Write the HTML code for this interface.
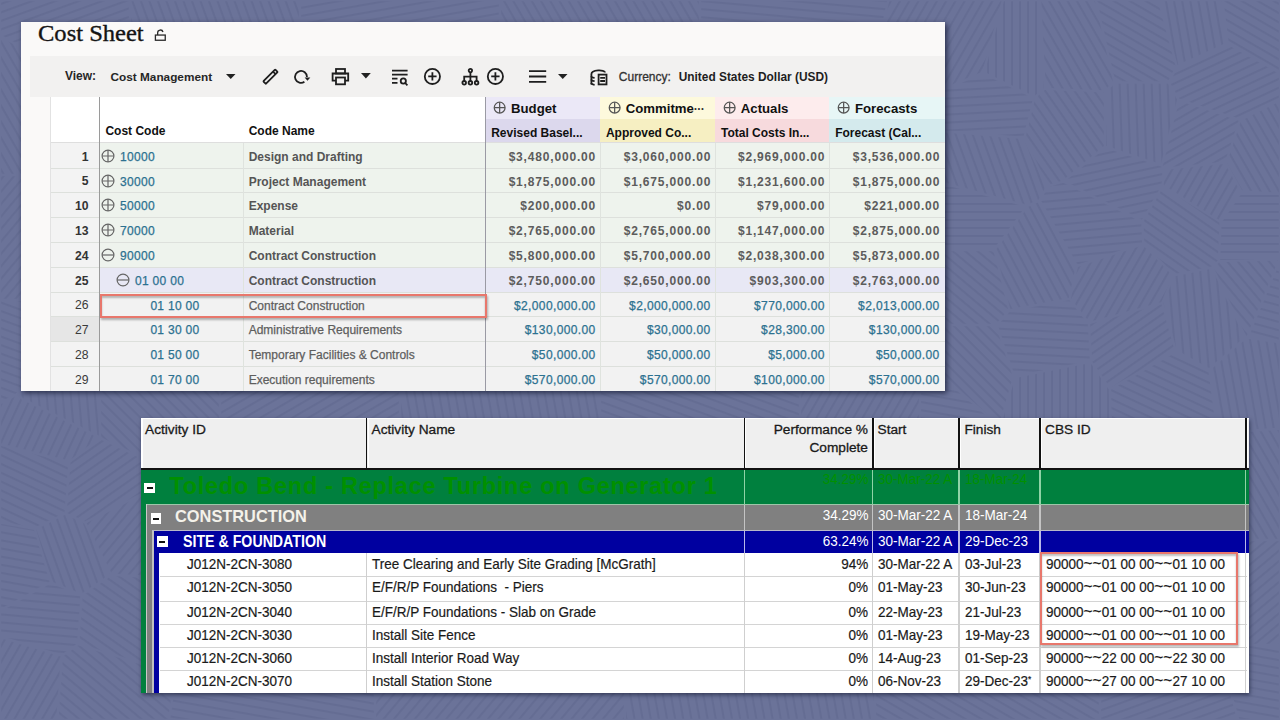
<!DOCTYPE html>
<html><head><meta charset="utf-8"><style>
html,body{margin:0;padding:0;}
body{width:1280px;height:720px;position:relative;overflow:hidden;background:#6b7399;font-family:'Liberation Sans', sans-serif;}
.r{position:absolute;}
.t{position:absolute;white-space:nowrap;line-height:1;}
</style></head><body>
<svg class="r" style="left:0;top:0;opacity:0.3" width="1280" height="720" viewBox="0 0 1280 720"><defs><pattern id="pm65" patternUnits="userSpaceOnUse" width="8" height="8" patternTransform="rotate(-65)"><rect y="3" width="8" height="1.9" fill="#575f86"/></pattern><pattern id="pm60" patternUnits="userSpaceOnUse" width="8" height="8" patternTransform="rotate(-60)"><rect y="3" width="8" height="1.9" fill="#575f86"/></pattern><pattern id="pm50" patternUnits="userSpaceOnUse" width="8" height="8" patternTransform="rotate(-50)"><rect y="3" width="8" height="1.9" fill="#575f86"/></pattern><pattern id="pm40" patternUnits="userSpaceOnUse" width="8" height="8" patternTransform="rotate(-40)"><rect y="3" width="8" height="1.9" fill="#575f86"/></pattern><pattern id="pm35" patternUnits="userSpaceOnUse" width="8" height="8" patternTransform="rotate(-35)"><rect y="3" width="8" height="1.9" fill="#575f86"/></pattern><pattern id="pm30" patternUnits="userSpaceOnUse" width="8" height="8" patternTransform="rotate(-30)"><rect y="3" width="8" height="1.9" fill="#575f86"/></pattern><pattern id="pm25" patternUnits="userSpaceOnUse" width="8" height="8" patternTransform="rotate(-25)"><rect y="3" width="8" height="1.9" fill="#575f86"/></pattern><pattern id="pm20" patternUnits="userSpaceOnUse" width="8" height="8" patternTransform="rotate(-20)"><rect y="3" width="8" height="1.9" fill="#575f86"/></pattern><pattern id="pm12" patternUnits="userSpaceOnUse" width="8" height="8" patternTransform="rotate(-12)"><rect y="3" width="8" height="1.9" fill="#575f86"/></pattern><pattern id="pm10" patternUnits="userSpaceOnUse" width="8" height="8" patternTransform="rotate(-10)"><rect y="3" width="8" height="1.9" fill="#575f86"/></pattern><pattern id="pm5" patternUnits="userSpaceOnUse" width="8" height="8" patternTransform="rotate(-5)"><rect y="3" width="8" height="1.9" fill="#575f86"/></pattern><pattern id="pm3" patternUnits="userSpaceOnUse" width="8" height="8" patternTransform="rotate(-3)"><rect y="3" width="8" height="1.9" fill="#575f86"/></pattern><pattern id="p0" patternUnits="userSpaceOnUse" width="8" height="8" patternTransform="rotate(0)"><rect y="3" width="8" height="1.9" fill="#575f86"/></pattern><pattern id="p3" patternUnits="userSpaceOnUse" width="8" height="8" patternTransform="rotate(3)"><rect y="3" width="8" height="1.9" fill="#575f86"/></pattern><pattern id="p5" patternUnits="userSpaceOnUse" width="8" height="8" patternTransform="rotate(5)"><rect y="3" width="8" height="1.9" fill="#575f86"/></pattern><pattern id="p10" patternUnits="userSpaceOnUse" width="8" height="8" patternTransform="rotate(10)"><rect y="3" width="8" height="1.9" fill="#575f86"/></pattern><pattern id="p15" patternUnits="userSpaceOnUse" width="8" height="8" patternTransform="rotate(15)"><rect y="3" width="8" height="1.9" fill="#575f86"/></pattern><pattern id="p20" patternUnits="userSpaceOnUse" width="8" height="8" patternTransform="rotate(20)"><rect y="3" width="8" height="1.9" fill="#575f86"/></pattern><pattern id="p25" patternUnits="userSpaceOnUse" width="8" height="8" patternTransform="rotate(25)"><rect y="3" width="8" height="1.9" fill="#575f86"/></pattern><pattern id="p30" patternUnits="userSpaceOnUse" width="8" height="8" patternTransform="rotate(30)"><rect y="3" width="8" height="1.9" fill="#575f86"/></pattern><pattern id="p35" patternUnits="userSpaceOnUse" width="8" height="8" patternTransform="rotate(35)"><rect y="3" width="8" height="1.9" fill="#575f86"/></pattern><pattern id="p40" patternUnits="userSpaceOnUse" width="8" height="8" patternTransform="rotate(40)"><rect y="3" width="8" height="1.9" fill="#575f86"/></pattern><pattern id="p45" patternUnits="userSpaceOnUse" width="8" height="8" patternTransform="rotate(45)"><rect y="3" width="8" height="1.9" fill="#575f86"/></pattern><pattern id="p50" patternUnits="userSpaceOnUse" width="8" height="8" patternTransform="rotate(50)"><rect y="3" width="8" height="1.9" fill="#575f86"/></pattern><pattern id="p55" patternUnits="userSpaceOnUse" width="8" height="8" patternTransform="rotate(55)"><rect y="3" width="8" height="1.9" fill="#575f86"/></pattern><pattern id="p60" patternUnits="userSpaceOnUse" width="8" height="8" patternTransform="rotate(60)"><rect y="3" width="8" height="1.9" fill="#575f86"/></pattern><pattern id="p62" patternUnits="userSpaceOnUse" width="8" height="8" patternTransform="rotate(62)"><rect y="3" width="8" height="1.9" fill="#575f86"/></pattern><pattern id="p70" patternUnits="userSpaceOnUse" width="8" height="8" patternTransform="rotate(70)"><rect y="3" width="8" height="1.9" fill="#575f86"/></pattern><pattern id="p80" patternUnits="userSpaceOnUse" width="8" height="8" patternTransform="rotate(80)"><rect y="3" width="8" height="1.9" fill="#575f86"/></pattern><pattern id="p85" patternUnits="userSpaceOnUse" width="8" height="8" patternTransform="rotate(85)"><rect y="3" width="8" height="1.9" fill="#575f86"/></pattern><pattern id="p88" patternUnits="userSpaceOnUse" width="8" height="8" patternTransform="rotate(88)"><rect y="3" width="8" height="1.9" fill="#575f86"/></pattern><pattern id="p90" patternUnits="userSpaceOnUse" width="8" height="8" patternTransform="rotate(90)"><rect y="3" width="8" height="1.9" fill="#575f86"/></pattern></defs><polygon points="984.7,71.9 1034.2,96.2 1043.4,88.3 1039.0,1.2 1003.9,1.2" fill="url(#p90)"/><polygon points="1045.8,87.7 1104.5,90.2 1113.0,82.1 1094.9,1.2 1041.4,1.2" fill="url(#p60)"/><polygon points="863.9,121.0 982.3,71.7 1001.4,1.2 889.3,1.2" fill="url(#pm60)"/><polygon points="864.2,123.5 1023.3,136.8 1033.0,98.2 983.2,73.9" fill="url(#pm3)"/><polygon points="1115.3,81.3 1168.0,81.3 1175.5,66.3 1157.7,1.2 1097.4,1.2" fill="url(#p30)"/><polygon points="1226.3,42.7 1221.4,1.2 1160.2,1.2 1177.6,64.8" fill="url(#p80)"/><polygon points="1228.7,42.6 1278.8,70.9 1278.8,1.2 1223.8,1.2" fill="url(#p30)"/><polygon points="1278.8,99.3 1278.8,73.7 1227.5,44.7 1177.6,67.4 1170.1,82.5 1179.1,98.4 1239.9,118.7" fill="url(#pm25)"/><polygon points="1103.8,92.6 1045.0,90.1 1035.4,98.2 1025.5,137.9 1047.6,185.0 1062.5,180.5 1103.8,146.1" fill="url(#p55)"/><polygon points="1168.0,83.7 1114.8,83.7 1106.2,91.9 1106.2,145.8 1160.9,164.0 1177.0,99.6" fill="url(#p88)"/><polygon points="1045.6,186.4 1023.4,139.2 862.0,125.7 838.8,153.4 1027.2,204.8 1038.7,199.6" fill="url(#p70)"/><polygon points="1238.5,120.8 1179.1,101.0 1163.0,165.4 1164.3,167.6 1224.9,161.6" fill="url(#pm30)"/><polygon points="1242.2,190.3 1278.8,192.6 1278.8,101.9 1241.0,120.9 1227.1,162.6" fill="url(#p60)"/><polygon points="1162.4,169.2 1160.9,166.6 1105.3,148.0 1065.3,181.3 1141.9,219.6 1161.4,185.4" fill="url(#pm12)"/><polygon points="1240.1,191.4 1225.1,163.9 1164.7,170.0 1163.8,185.1 1220.2,220.4" fill="url(#pm60)"/><polygon points="837.0,155.4 767.4,211.7 792.8,248.8 993.8,248.8 1025.3,206.8" fill="url(#p0)"/><polygon points="1039.1,202.1 1028.1,207.1 995.7,250.3 1010.3,308.9 1068.7,297.9 1075.7,266.2" fill="url(#p62)"/><polygon points="1141.2,222.0 1063.0,182.8 1047.8,187.4 1041.0,200.5 1077.6,264.6 1142.0,243.1" fill="url(#pm5)"/><polygon points="1217.7,260.6 1219.3,222.6 1163.0,187.4 1143.6,221.5 1144.4,243.4 1174.1,274.0 1212.0,266.3" fill="url(#p35)"/><polygon points="1278.8,258.2 1278.8,195.0 1242.1,192.7 1221.7,222.4 1220.2,259.9" fill="url(#p0)"/><polygon points="993.4,251.2 794.1,251.2 800.9,266.0 904.1,323.8 996.1,323.8 1008.1,309.9" fill="url(#p40)"/><polygon points="1142.9,245.3 1078.0,266.9 1071.0,298.7 1089.4,321.7 1161.4,302.0 1172.3,275.6" fill="url(#pm60)"/><polygon points="1174.5,276.4 1163.6,303.1 1177.0,350.2 1209.2,368.1 1244.2,337.2 1211.9,268.8" fill="url(#p85)"/><polygon points="1246.4,336.3 1246.5,336.3 1278.1,260.6 1219.4,262.3 1214.0,267.7" fill="url(#p50)"/><polygon points="1010.1,311.4 998.0,325.3 1014.9,375.8 1089.8,360.8 1087.7,323.5 1069.2,300.3" fill="url(#p3)"/><polygon points="1161.5,304.5 1090.2,323.9 1092.3,361.4 1110.2,387.6 1174.6,350.4" fill="url(#pm35)"/><polygon points="905.7,326.2 921.0,356.7 999.1,423.7 1012.8,377.2 995.8,326.2" fill="url(#p45)"/><polygon points="1015.0,378.2 1001.0,426.0 1011.5,547.5 1095.2,562.2 1112.9,544.0 1108.7,389.5 1090.5,363.1" fill="url(#p90)"/><polygon points="1176.0,352.4 1111.1,389.8 1115.3,542.6 1122.7,539.0 1216.3,432.7 1208.3,370.3" fill="url(#p25)"/><polygon points="1210.6,370.0 1218.6,431.8 1278.8,427.6 1278.8,343.4 1247.2,338.7 1246.1,338.7" fill="url(#p80)"/><polygon points="69.2,460.4 98.4,438.0 15.5,396.6 1.2,404.2 1.2,443.4" fill="url(#pm65)"/><polygon points="68.2,462.7 1.2,445.9 1.2,521.6 34.7,527.6 64.4,512.7" fill="url(#p25)"/><polygon points="176.5,475.4 100.3,439.6 70.6,462.4 66.8,512.8 85.0,521.2" fill="url(#pm35)"/><polygon points="49.5,581.7 34.0,529.9 1.2,524.1 1.2,608.5" fill="url(#p10)"/><polygon points="81.5,593.7 109.5,574.2 84.1,523.4 65.5,514.8 36.3,529.4 51.9,581.4" fill="url(#p70)"/><polygon points="111.8,573.5 235.9,580.4 269.7,555.6 219.3,483.0 179.4,476.6 86.6,523.0" fill="url(#pm50)"/><polygon points="80.3,595.8 51.0,583.6 1.2,611.3 1.2,635.8 61.7,654.5 76.9,643.6" fill="url(#p5)"/><polygon points="175.3,672.9 234.1,582.7 111.4,575.9 82.8,595.7 79.4,643.4" fill="url(#p35)"/><polygon points="60.6,656.6 1.2,638.4 1.2,718.8 56.2,718.8" fill="url(#pm60)"/><polygon points="174.5,675.1 78.3,645.5 63.1,656.4 58.6,718.8 168.0,718.8" fill="url(#p40)"/><polygon points="128.8,1.2 1.2,1.2 1.2,34.8 128.8,105.7" fill="url(#pm20)"/><polygon points="298.8,193.9 298.8,1.2 131.2,1.2 131.2,107.5 162.8,174.2 211.2,212.5 219.9,213.9" fill="url(#p70)"/><polygon points="301.2,193.9 400.0,218.9 498.8,193.9 498.8,1.2 301.2,1.2" fill="url(#pm10)"/><polygon points="501.2,193.9 600.0,218.9 698.8,193.9 698.8,1.2 501.2,1.2" fill="url(#p60)"/><polygon points="861.1,122.6 886.9,1.2 701.2,1.2 701.2,193.9 765.5,210.2 835.9,153.2 860.5,123.8" fill="url(#p5)"/><polygon points="129.1,108.6 1.2,37.6 1.2,173.8 159.9,173.8" fill="url(#p60)"/><polygon points="161.4,176.2 1.2,176.2 1.2,298.8 107.4,298.8 208.8,213.7" fill="url(#pm50)"/><polygon points="14.8,394.3 99.0,317.7 106.0,301.2 1.2,301.2 1.2,401.5" fill="url(#p20)"/><polygon points="98.8,321.1 17.6,395.0 98.8,435.6" fill="url(#p85)"/><polygon points="101.2,437.3 179.6,474.2 218.8,480.5 218.8,216.1 211.1,215.0 108.8,300.7 101.2,318.7" fill="url(#p45)"/><polygon points="374.7,571.7 398.8,555.9 398.8,221.1 300.0,196.1 221.2,216.0 221.2,481.5 272.1,554.8" fill="url(#pm30)"/><polygon points="598.8,221.1 500.0,196.1 401.2,221.1 401.2,555.3 598.8,555.3" fill="url(#p80)"/><polygon points="791.1,250.6 765.1,212.6 700.0,196.1 601.2,221.1 601.2,555.9 625.3,571.7 798.8,543.1 798.8,267.2" fill="url(#p20)"/><polygon points="902.8,325.9 801.2,268.9 801.2,543.4 875.1,580.0 918.8,565.5 918.8,357.8" fill="url(#pm60)"/><polygon points="373.8,574.0 271.7,557.2 237.1,582.4 176.9,674.7 170.4,718.8 373.8,718.8" fill="url(#p10)"/><polygon points="623.8,573.6 599.6,557.7 400.4,557.7 376.2,573.6 376.2,718.8 623.8,718.8" fill="url(#pm50)"/><polygon points="873.8,582.0 799.8,545.4 626.2,574.0 626.2,718.8 873.8,718.8" fill="url(#p80)"/><polygon points="876.2,582.1 876.2,718.8 1098.8,718.8 1098.8,574.5 1094.7,564.5 1010.4,549.7 920.3,567.6" fill="url(#p30)"/><polygon points="1101.2,718.8 1236.7,718.8 1216.5,645.8 1101.2,576.4" fill="url(#pm20)"/><polygon points="1218.1,434.2 1126.1,538.8 1278.8,538.8 1278.8,430.0" fill="url(#p60)"/><polygon points="1097.0,563.7 1101.0,573.4 1217.9,643.8 1278.8,643.8 1278.8,541.2 1123.8,541.2 1114.8,545.5" fill="url(#pm40)"/><polygon points="1239.2,718.8 1278.8,718.8 1278.8,646.2 1219.1,646.2" fill="url(#p10)"/><polygon points="1278.8,265.1 1249.0,336.5 1278.8,341.0" fill="url(#p15)"/><polygon points="921.2,564.9 1009.1,547.5 998.6,426.4 921.2,360.1" fill="url(#p10)"/></svg><div class="r" style="left:21.00px;top:22.00px;width:924.00px;height:368.80px;background:#faf9f8;box-shadow:2px 2px 5px rgba(15,20,45,0.7);"></div><div class="t" style="left:38.40px;top:22.03px;font-size:23.6px;font-weight:400;color:#141414;font-family:'Liberation Serif', serif;letter-spacing:0px;-webkit-text-stroke:0.35px #141414;transform:scaleX(1.04);transform-origin:left top;">Cost Sheet</div><svg class="r" style="left:153px;top:28px" width="16" height="16" viewBox="0 0 16 16"><path d="M4.65 7.05 V4.88 A2.73 2.73 0 0 1 10.0 4.0" fill="none" stroke="#2a2a2a" stroke-width="1.3"/><rect x="2.4" y="7.05" width="9.85" height="5.2" fill="none" stroke="#2a2a2a" stroke-width="1.3"/></svg><div class="r" style="left:29.70px;top:56.00px;width:915.30px;height:40.70px;background:#f2f1f0;"></div><div class="t" style="left:64.90px;top:70.44px;font-size:12px;font-weight:700;color:#262626;font-family:'Liberation Sans', sans-serif;letter-spacing:0px;">View:</div><div class="t" style="left:110.50px;top:71.61px;font-size:11.8px;font-weight:700;color:#262626;font-family:'Liberation Sans', sans-serif;letter-spacing:0px;">Cost Management</div><svg class="r" style="left:226px;top:73.8px" width="9.5" height="5" viewBox="0 0 9.5 5"><path d="M0 0 H9.5 L4.75 5 Z" fill="#222"/></svg><svg class="r" style="left:258px;top:64px" width="26" height="26" viewBox="0 0 26 26"><g transform="translate(12.5 12.7) rotate(-45)"><rect x="-8.4" y="-1.8" width="16.8" height="3.6" rx="0.6" fill="none" stroke="#1e1e1e" stroke-width="1.8" stroke-width="1.7"/><path d="M5.4 -1.8 V1.8" fill="none" stroke="#1e1e1e" stroke-width="1.8" stroke-width="1.5"/></g></svg><svg class="r" style="left:290px;top:66px" width="24" height="22" viewBox="0 0 24 22"><path d="M16.95 10.9 A5.95 5.95 0 1 0 14.4 15.8" fill="none" stroke="#1e1e1e" stroke-width="1.8"/><path d="M14.6 11.6 H20.3 L17.5 14.8 Z" fill="#1e1e1e"/></svg><svg class="r" style="left:331px;top:67px" width="19" height="19" viewBox="0 0 19 19"><rect x="5" y="2" width="9" height="4.5" fill="none" stroke="#1e1e1e" stroke-width="1.8"/><path d="M5 13.6 H1.6 V6.5 H17.2 V13.6 H14" fill="none" stroke="#1e1e1e" stroke-width="1.8"/><rect x="5" y="10.5" width="9" height="6.8" fill="none" stroke="#1e1e1e" stroke-width="1.8"/></svg><svg class="r" style="left:360.8px;top:73.3px" width="9.8" height="5.4" viewBox="0 0 9.8 5.4"><path d="M0 0 H9.8 L4.9 5.4 Z" fill="#222"/></svg><svg class="r" style="left:391px;top:68.8px" width="18" height="18" viewBox="0 0 18 18"><path d="M1 1.6 H16.6 M1 5.6 H16.6 M1 9.6 H6.5 M1 13.8 H6.5" fill="none" stroke="#1e1e1e" stroke-width="1.8"/><circle cx="12.3" cy="12" r="2.6" fill="none" stroke="#1e1e1e" stroke-width="1.8"/><path d="M14.2 14 L16.4 16.4" fill="none" stroke="#1e1e1e" stroke-width="1.8"/></svg><svg class="r" style="left:422.80px;top:67.00px" width="18.80" height="18.80" viewBox="-9.4 -9.4 18.8 18.8"><circle cx="0" cy="0" r="7.6" fill="none" stroke="#1e1e1e" stroke-width="1.8"/><path d="M-4.18 0 H4.18 M0 -4.18 V4.18" stroke="#1e1e1e" stroke-width="1.8"/></svg><svg class="r" style="left:461px;top:68px" width="19" height="18" viewBox="0 0 19 18"><circle cx="9.4" cy="2.6" r="1.7" fill="none" stroke="#1e1e1e" stroke-width="1.8" stroke-width="1.6"/><path d="M9.4 4.3 V8.6 M3.2 13 V8.6 H15.6 V13 M9.4 8.6 V13" fill="none" stroke="#1e1e1e" stroke-width="1.8" stroke-width="1.6"/><circle cx="3.2" cy="14.8" r="1.8" fill="none" stroke="#1e1e1e" stroke-width="1.8" stroke-width="1.6"/><circle cx="9.4" cy="14.8" r="1.8" fill="none" stroke="#1e1e1e" stroke-width="1.8" stroke-width="1.6"/><circle cx="15.6" cy="14.8" r="1.8" fill="none" stroke="#1e1e1e" stroke-width="1.8" stroke-width="1.6"/></svg><svg class="r" style="left:485.90px;top:67.00px" width="18.80" height="18.80" viewBox="-9.4 -9.4 18.8 18.8"><circle cx="0" cy="0" r="7.6" fill="none" stroke="#1e1e1e" stroke-width="1.8"/><path d="M-4.18 0 H4.18 M0 -4.18 V4.18" stroke="#1e1e1e" stroke-width="1.8"/></svg><svg class="r" style="left:528px;top:69px" width="20" height="15" viewBox="0 0 20 15"><path d="M1 2.2 H18.2 M1 7.5 H18.2 M1 12.9 H18.2" fill="none" stroke="#1e1e1e" stroke-width="1.8" stroke-width="2"/></svg><svg class="r" style="left:558px;top:73.5px" width="9.5" height="5" viewBox="0 0 9.5 5"><path d="M0 0 H9.5 L4.75 5 Z" fill="#222"/></svg><svg class="r" style="left:588px;top:66px" width="22" height="22" viewBox="0 0 22 22"><path d="M3.4 18.6 V8.2 C3.4 3.6 17.0 3.4 17.0 6.6" fill="none" stroke="#1e1e1e" stroke-width="1.8" stroke-width="1.6"/><path d="M3.4 10.2 C3.4 11.2 4.8 11.6 6.6 11.8 M3.4 13.6 C3.4 14.6 4.8 15 6.6 15.2 M3.4 17 C3.4 18 4.8 18.5 6.6 18.8" fill="none" stroke="#1e1e1e" stroke-width="1.8" stroke-width="1.4"/><rect x="10.6" y="8.6" width="7.9" height="9.8" fill="none" stroke="#1e1e1e" stroke-width="1.8" stroke-width="1.7"/><path d="M12.2 11.9 H17 M12.2 15 H17" fill="none" stroke="#1e1e1e" stroke-width="1.8" stroke-width="1.5"/></svg><div class="t" style="left:618.80px;top:71.44px;font-size:12px;font-weight:400;color:#333;font-family:'Liberation Sans', sans-serif;letter-spacing:0px;-webkit-text-stroke:0.3px #333;">Currency:</div><div class="t" style="left:678.70px;top:71.53px;font-size:11.9px;font-weight:700;color:#1e1e1e;font-family:'Liberation Sans', sans-serif;letter-spacing:0px;">United States Dollar (USD)</div><div class="r" style="left:50.50px;top:96.70px;width:435.00px;height:46.30px;background:#ffffff;"></div><div class="r" style="left:485.40px;top:96.70px;width:114.70px;height:22.20px;background:#ebe8f7;"></div><div class="r" style="left:485.40px;top:118.90px;width:114.70px;height:24.10px;background:#dcd8ed;"></div><svg class="r" style="left:492.95px;top:101.05px" width="13.30" height="13.30" viewBox="-6.65 -6.65 13.3 13.3"><circle cx="0" cy="0" r="5.4" fill="none" stroke="#555" stroke-width="1.25"/><path d="M-5.4 0 H5.4 M0 -5.4 V5.4" stroke="#555" stroke-width="1.25"/></svg><div class="t" style="left:511.00px;top:101.63px;font-size:13.2px;font-weight:700;color:#111;font-family:'Liberation Sans', sans-serif;letter-spacing:0px;">Budget</div><div class="t" style="left:491.20px;top:127.04px;font-size:12px;font-weight:700;color:#111;font-family:'Liberation Sans', sans-serif;letter-spacing:0px;">Revised Basel...</div><div class="r" style="left:600.10px;top:96.70px;width:115.10px;height:22.20px;background:#fdf9dc;"></div><div class="r" style="left:600.10px;top:118.90px;width:115.10px;height:24.10px;background:#f6efc2;"></div><svg class="r" style="left:607.65px;top:101.05px" width="13.30" height="13.30" viewBox="-6.65 -6.65 13.3 13.3"><circle cx="0" cy="0" r="5.4" fill="none" stroke="#555" stroke-width="1.25"/><path d="M-5.4 0 H5.4 M0 -5.4 V5.4" stroke="#555" stroke-width="1.25"/></svg><div class="t" style="left:625.70px;top:101.63px;font-size:13.2px;font-weight:700;color:#111;font-family:'Liberation Sans', sans-serif;letter-spacing:0px;">Commitme<span style="letter-spacing:-0.6px;font-size:12px;color:#333">···</span></div><div class="t" style="left:605.90px;top:127.04px;font-size:12px;font-weight:700;color:#111;font-family:'Liberation Sans', sans-serif;letter-spacing:0px;">Approved Co...</div><div class="r" style="left:715.20px;top:96.70px;width:114.20px;height:22.20px;background:#fdeced;"></div><div class="r" style="left:715.20px;top:118.90px;width:114.20px;height:24.10px;background:#f7dadd;"></div><svg class="r" style="left:722.75px;top:101.05px" width="13.30" height="13.30" viewBox="-6.65 -6.65 13.3 13.3"><circle cx="0" cy="0" r="5.4" fill="none" stroke="#555" stroke-width="1.25"/><path d="M-5.4 0 H5.4 M0 -5.4 V5.4" stroke="#555" stroke-width="1.25"/></svg><div class="t" style="left:740.80px;top:101.63px;font-size:13.2px;font-weight:700;color:#111;font-family:'Liberation Sans', sans-serif;letter-spacing:0px;">Actuals</div><div class="t" style="left:721.00px;top:127.04px;font-size:12px;font-weight:700;color:#111;font-family:'Liberation Sans', sans-serif;letter-spacing:0px;">Total Costs In...</div><div class="r" style="left:829.40px;top:96.70px;width:115.60px;height:22.20px;background:#e7f6f6;"></div><div class="r" style="left:829.40px;top:118.90px;width:115.60px;height:24.10px;background:#d4eaed;"></div><svg class="r" style="left:836.95px;top:101.05px" width="13.30" height="13.30" viewBox="-6.65 -6.65 13.3 13.3"><circle cx="0" cy="0" r="5.4" fill="none" stroke="#555" stroke-width="1.25"/><path d="M-5.4 0 H5.4 M0 -5.4 V5.4" stroke="#555" stroke-width="1.25"/></svg><div class="t" style="left:855.00px;top:101.63px;font-size:13.2px;font-weight:700;color:#111;font-family:'Liberation Sans', sans-serif;letter-spacing:0px;">Forecasts</div><div class="t" style="left:835.20px;top:127.04px;font-size:12px;font-weight:700;color:#111;font-family:'Liberation Sans', sans-serif;letter-spacing:0px;">Forecast (Cal...</div><div class="t" style="left:105.40px;top:125.34px;font-size:12px;font-weight:700;color:#111;font-family:'Liberation Sans', sans-serif;letter-spacing:0px;">Cost Code</div><div class="t" style="left:248.70px;top:125.34px;font-size:12px;font-weight:700;color:#111;font-family:'Liberation Sans', sans-serif;letter-spacing:0px;">Code Name</div><div class="r" style="left:50.50px;top:142.00px;width:894.50px;height:1.60px;background:#dedede;"></div><div class="r" style="left:50.50px;top:143.20px;width:49.00px;height:24.80px;background:#f3f3f3;"></div><div class="r" style="left:99.60px;top:143.20px;width:845.40px;height:24.80px;background:#eef3ed;"></div><div class="t" style="right:1191.40px;top:150.67px;font-size:12.2px;font-weight:700;color:#333;font-family:'Liberation Sans', sans-serif;letter-spacing:0px;">1</div><svg class="r" style="left:100.80px;top:148.80px" width="14" height="14" viewBox="-7 -7 14 14"><circle r="5.9" fill="none" stroke="#666" stroke-width="1.2"/><path d="M-5.9 0 H5.9 M0 -5.9 V5.9" stroke="#666" stroke-width="1.2"/></svg><div class="t" style="left:120.00px;top:150.84px;font-size:12px;font-weight:400;color:#2c7190;font-family:'Liberation Sans', sans-serif;letter-spacing:0.3px;-webkit-text-stroke:0.25px #2c7190;">10000</div><div class="t" style="left:248.70px;top:150.84px;font-size:12px;font-weight:700;color:#555;font-family:'Liberation Sans', sans-serif;letter-spacing:0px;">Design and Drafting</div><div class="t" style="right:683.98px;top:150.84px;font-size:12px;font-weight:700;color:#5c5c5c;font-family:'Liberation Sans', sans-serif;letter-spacing:0.82px;">$3,480,000.00</div><div class="t" style="right:568.88px;top:150.84px;font-size:12px;font-weight:700;color:#5c5c5c;font-family:'Liberation Sans', sans-serif;letter-spacing:0.82px;">$3,060,000.00</div><div class="t" style="right:454.68px;top:150.84px;font-size:12px;font-weight:700;color:#5c5c5c;font-family:'Liberation Sans', sans-serif;letter-spacing:0.82px;">$2,969,000.00</div><div class="t" style="right:339.88px;top:150.84px;font-size:12px;font-weight:700;color:#5c5c5c;font-family:'Liberation Sans', sans-serif;letter-spacing:0.82px;">$3,536,000.00</div><div class="r" style="left:50.50px;top:168.00px;width:49.00px;height:24.80px;background:#f3f3f3;"></div><div class="r" style="left:99.60px;top:168.00px;width:845.40px;height:24.80px;background:#eef3ed;"></div><div class="t" style="right:1191.40px;top:175.47px;font-size:12.2px;font-weight:700;color:#333;font-family:'Liberation Sans', sans-serif;letter-spacing:0px;">5</div><svg class="r" style="left:100.80px;top:173.60px" width="14" height="14" viewBox="-7 -7 14 14"><circle r="5.9" fill="none" stroke="#666" stroke-width="1.2"/><path d="M-5.9 0 H5.9 M0 -5.9 V5.9" stroke="#666" stroke-width="1.2"/></svg><div class="t" style="left:120.00px;top:175.64px;font-size:12px;font-weight:400;color:#2c7190;font-family:'Liberation Sans', sans-serif;letter-spacing:0.3px;-webkit-text-stroke:0.25px #2c7190;">30000</div><div class="t" style="left:248.70px;top:175.64px;font-size:12px;font-weight:700;color:#555;font-family:'Liberation Sans', sans-serif;letter-spacing:0px;">Project Management</div><div class="t" style="right:683.98px;top:175.64px;font-size:12px;font-weight:700;color:#5c5c5c;font-family:'Liberation Sans', sans-serif;letter-spacing:0.82px;">$1,875,000.00</div><div class="t" style="right:568.88px;top:175.64px;font-size:12px;font-weight:700;color:#5c5c5c;font-family:'Liberation Sans', sans-serif;letter-spacing:0.82px;">$1,675,000.00</div><div class="t" style="right:454.68px;top:175.64px;font-size:12px;font-weight:700;color:#5c5c5c;font-family:'Liberation Sans', sans-serif;letter-spacing:0.82px;">$1,231,600.00</div><div class="t" style="right:339.88px;top:175.64px;font-size:12px;font-weight:700;color:#5c5c5c;font-family:'Liberation Sans', sans-serif;letter-spacing:0.82px;">$1,875,000.00</div><div class="r" style="left:50.50px;top:192.80px;width:49.00px;height:24.80px;background:#f3f3f3;"></div><div class="r" style="left:99.60px;top:192.80px;width:845.40px;height:24.80px;background:#eef3ed;"></div><div class="t" style="right:1191.40px;top:200.27px;font-size:12.2px;font-weight:700;color:#333;font-family:'Liberation Sans', sans-serif;letter-spacing:0px;">10</div><svg class="r" style="left:100.80px;top:198.40px" width="14" height="14" viewBox="-7 -7 14 14"><circle r="5.9" fill="none" stroke="#666" stroke-width="1.2"/><path d="M-5.9 0 H5.9 M0 -5.9 V5.9" stroke="#666" stroke-width="1.2"/></svg><div class="t" style="left:120.00px;top:200.44px;font-size:12px;font-weight:400;color:#2c7190;font-family:'Liberation Sans', sans-serif;letter-spacing:0.3px;-webkit-text-stroke:0.25px #2c7190;">50000</div><div class="t" style="left:248.70px;top:200.44px;font-size:12px;font-weight:700;color:#555;font-family:'Liberation Sans', sans-serif;letter-spacing:0px;">Expense</div><div class="t" style="right:683.98px;top:200.44px;font-size:12px;font-weight:700;color:#5c5c5c;font-family:'Liberation Sans', sans-serif;letter-spacing:0.82px;">$200,000.00</div><div class="t" style="right:568.88px;top:200.44px;font-size:12px;font-weight:700;color:#5c5c5c;font-family:'Liberation Sans', sans-serif;letter-spacing:0.82px;">$0.00</div><div class="t" style="right:454.68px;top:200.44px;font-size:12px;font-weight:700;color:#5c5c5c;font-family:'Liberation Sans', sans-serif;letter-spacing:0.82px;">$79,000.00</div><div class="t" style="right:339.88px;top:200.44px;font-size:12px;font-weight:700;color:#5c5c5c;font-family:'Liberation Sans', sans-serif;letter-spacing:0.82px;">$221,000.00</div><div class="r" style="left:50.50px;top:217.60px;width:49.00px;height:24.80px;background:#f3f3f3;"></div><div class="r" style="left:99.60px;top:217.60px;width:845.40px;height:24.80px;background:#eef3ed;"></div><div class="t" style="right:1191.40px;top:225.07px;font-size:12.2px;font-weight:700;color:#333;font-family:'Liberation Sans', sans-serif;letter-spacing:0px;">13</div><svg class="r" style="left:100.80px;top:223.20px" width="14" height="14" viewBox="-7 -7 14 14"><circle r="5.9" fill="none" stroke="#666" stroke-width="1.2"/><path d="M-5.9 0 H5.9 M0 -5.9 V5.9" stroke="#666" stroke-width="1.2"/></svg><div class="t" style="left:120.00px;top:225.24px;font-size:12px;font-weight:400;color:#2c7190;font-family:'Liberation Sans', sans-serif;letter-spacing:0.3px;-webkit-text-stroke:0.25px #2c7190;">70000</div><div class="t" style="left:248.70px;top:225.24px;font-size:12px;font-weight:700;color:#555;font-family:'Liberation Sans', sans-serif;letter-spacing:0px;">Material</div><div class="t" style="right:683.98px;top:225.24px;font-size:12px;font-weight:700;color:#5c5c5c;font-family:'Liberation Sans', sans-serif;letter-spacing:0.82px;">$2,765,000.00</div><div class="t" style="right:568.88px;top:225.24px;font-size:12px;font-weight:700;color:#5c5c5c;font-family:'Liberation Sans', sans-serif;letter-spacing:0.82px;">$2,765,000.00</div><div class="t" style="right:454.68px;top:225.24px;font-size:12px;font-weight:700;color:#5c5c5c;font-family:'Liberation Sans', sans-serif;letter-spacing:0.82px;">$1,147,000.00</div><div class="t" style="right:339.88px;top:225.24px;font-size:12px;font-weight:700;color:#5c5c5c;font-family:'Liberation Sans', sans-serif;letter-spacing:0.82px;">$2,875,000.00</div><div class="r" style="left:50.50px;top:242.40px;width:49.00px;height:24.80px;background:#f3f3f3;"></div><div class="r" style="left:99.60px;top:242.40px;width:845.40px;height:24.80px;background:#eef3ed;"></div><div class="t" style="right:1191.40px;top:249.87px;font-size:12.2px;font-weight:700;color:#333;font-family:'Liberation Sans', sans-serif;letter-spacing:0px;">24</div><svg class="r" style="left:100.80px;top:248.00px" width="14" height="14" viewBox="-7 -7 14 14"><circle r="5.9" fill="none" stroke="#666" stroke-width="1.2"/><path d="M-5.9 0 H5.9" stroke="#666" stroke-width="1.2"/></svg><div class="t" style="left:120.00px;top:250.04px;font-size:12px;font-weight:400;color:#2c7190;font-family:'Liberation Sans', sans-serif;letter-spacing:0.3px;-webkit-text-stroke:0.25px #2c7190;">90000</div><div class="t" style="left:248.70px;top:250.04px;font-size:12px;font-weight:700;color:#555;font-family:'Liberation Sans', sans-serif;letter-spacing:0px;">Contract Construction</div><div class="t" style="right:683.98px;top:250.04px;font-size:12px;font-weight:700;color:#5c5c5c;font-family:'Liberation Sans', sans-serif;letter-spacing:0.82px;">$5,800,000.00</div><div class="t" style="right:568.88px;top:250.04px;font-size:12px;font-weight:700;color:#5c5c5c;font-family:'Liberation Sans', sans-serif;letter-spacing:0.82px;">$5,700,000.00</div><div class="t" style="right:454.68px;top:250.04px;font-size:12px;font-weight:700;color:#5c5c5c;font-family:'Liberation Sans', sans-serif;letter-spacing:0.82px;">$2,038,300.00</div><div class="t" style="right:339.88px;top:250.04px;font-size:12px;font-weight:700;color:#5c5c5c;font-family:'Liberation Sans', sans-serif;letter-spacing:0.82px;">$5,873,000.00</div><div class="r" style="left:50.50px;top:267.20px;width:49.00px;height:24.80px;background:#f3f3f3;"></div><div class="r" style="left:99.60px;top:267.20px;width:845.40px;height:24.80px;background:#e8e8f5;"></div><div class="t" style="right:1191.40px;top:274.67px;font-size:12.2px;font-weight:700;color:#333;font-family:'Liberation Sans', sans-serif;letter-spacing:0px;">25</div><svg class="r" style="left:116.00px;top:272.80px" width="14" height="14" viewBox="-7 -7 14 14"><circle r="5.9" fill="none" stroke="#666" stroke-width="1.2"/><path d="M-5.9 0 H5.9" stroke="#666" stroke-width="1.2"/></svg><div class="t" style="left:135.00px;top:274.84px;font-size:12px;font-weight:400;color:#2c7190;font-family:'Liberation Sans', sans-serif;letter-spacing:0.3px;-webkit-text-stroke:0.25px #2c7190;">01 00 00</div><div class="t" style="left:248.70px;top:274.84px;font-size:12px;font-weight:700;color:#555;font-family:'Liberation Sans', sans-serif;letter-spacing:0px;">Contract Construction</div><div class="t" style="right:683.98px;top:274.84px;font-size:12px;font-weight:700;color:#5c5c5c;font-family:'Liberation Sans', sans-serif;letter-spacing:0.82px;">$2,750,000.00</div><div class="t" style="right:568.88px;top:274.84px;font-size:12px;font-weight:700;color:#5c5c5c;font-family:'Liberation Sans', sans-serif;letter-spacing:0.82px;">$2,650,000.00</div><div class="t" style="right:454.68px;top:274.84px;font-size:12px;font-weight:700;color:#5c5c5c;font-family:'Liberation Sans', sans-serif;letter-spacing:0.82px;">$903,300.00</div><div class="t" style="right:339.88px;top:274.84px;font-size:12px;font-weight:700;color:#5c5c5c;font-family:'Liberation Sans', sans-serif;letter-spacing:0.82px;">$2,763,000.00</div><div class="r" style="left:50.50px;top:292.00px;width:49.00px;height:24.80px;background:#f3f3f3;"></div><div class="r" style="left:99.60px;top:292.00px;width:845.40px;height:24.80px;background:#f2f2f2;"></div><div class="t" style="right:1191.40px;top:299.47px;font-size:12.2px;font-weight:400;color:#3a3a3a;font-family:'Liberation Sans', sans-serif;letter-spacing:0px;">26</div><div class="t" style="left:150.40px;top:299.64px;font-size:12px;font-weight:400;color:#2c7190;font-family:'Liberation Sans', sans-serif;letter-spacing:0.3px;-webkit-text-stroke:0.25px #2c7190;">01 10 00</div><div class="t" style="left:248.70px;top:299.64px;font-size:12px;font-weight:400;color:#5e5e5e;font-family:'Liberation Sans', sans-serif;letter-spacing:0px;-webkit-text-stroke:0.25px #5e5e5e;">Contract Construction</div><div class="t" style="right:684.43px;top:299.64px;font-size:12px;font-weight:400;color:#2c7190;font-family:'Liberation Sans', sans-serif;letter-spacing:0.37px;-webkit-text-stroke:0.25px #2c7190;">$2,000,000.00</div><div class="t" style="right:569.33px;top:299.64px;font-size:12px;font-weight:400;color:#2c7190;font-family:'Liberation Sans', sans-serif;letter-spacing:0.37px;-webkit-text-stroke:0.25px #2c7190;">$2,000,000.00</div><div class="t" style="right:455.13px;top:299.64px;font-size:12px;font-weight:400;color:#2c7190;font-family:'Liberation Sans', sans-serif;letter-spacing:0.37px;-webkit-text-stroke:0.25px #2c7190;">$770,000.00</div><div class="t" style="right:340.33px;top:299.64px;font-size:12px;font-weight:400;color:#2c7190;font-family:'Liberation Sans', sans-serif;letter-spacing:0.37px;-webkit-text-stroke:0.25px #2c7190;">$2,013,000.00</div><div class="r" style="left:50.50px;top:316.80px;width:49.00px;height:24.80px;background:#e6e6e6;"></div><div class="r" style="left:99.60px;top:316.80px;width:845.40px;height:24.80px;background:#f2f2f2;"></div><div class="t" style="right:1191.40px;top:324.27px;font-size:12.2px;font-weight:400;color:#3a3a3a;font-family:'Liberation Sans', sans-serif;letter-spacing:0px;">27</div><div class="t" style="left:150.40px;top:324.44px;font-size:12px;font-weight:400;color:#2c7190;font-family:'Liberation Sans', sans-serif;letter-spacing:0.3px;-webkit-text-stroke:0.25px #2c7190;">01 30 00</div><div class="t" style="left:248.70px;top:324.44px;font-size:12px;font-weight:400;color:#5e5e5e;font-family:'Liberation Sans', sans-serif;letter-spacing:0px;-webkit-text-stroke:0.25px #5e5e5e;">Administrative Requirements</div><div class="t" style="right:684.43px;top:324.44px;font-size:12px;font-weight:400;color:#2c7190;font-family:'Liberation Sans', sans-serif;letter-spacing:0.37px;-webkit-text-stroke:0.25px #2c7190;">$130,000.00</div><div class="t" style="right:569.33px;top:324.44px;font-size:12px;font-weight:400;color:#2c7190;font-family:'Liberation Sans', sans-serif;letter-spacing:0.37px;-webkit-text-stroke:0.25px #2c7190;">$30,000.00</div><div class="t" style="right:455.13px;top:324.44px;font-size:12px;font-weight:400;color:#2c7190;font-family:'Liberation Sans', sans-serif;letter-spacing:0.37px;-webkit-text-stroke:0.25px #2c7190;">$28,300.00</div><div class="t" style="right:340.33px;top:324.44px;font-size:12px;font-weight:400;color:#2c7190;font-family:'Liberation Sans', sans-serif;letter-spacing:0.37px;-webkit-text-stroke:0.25px #2c7190;">$130,000.00</div><div class="r" style="left:50.50px;top:341.60px;width:49.00px;height:24.80px;background:#f3f3f3;"></div><div class="r" style="left:99.60px;top:341.60px;width:845.40px;height:24.80px;background:#f2f2f2;"></div><div class="t" style="right:1191.40px;top:349.07px;font-size:12.2px;font-weight:400;color:#3a3a3a;font-family:'Liberation Sans', sans-serif;letter-spacing:0px;">28</div><div class="t" style="left:150.40px;top:349.24px;font-size:12px;font-weight:400;color:#2c7190;font-family:'Liberation Sans', sans-serif;letter-spacing:0.3px;-webkit-text-stroke:0.25px #2c7190;">01 50 00</div><div class="t" style="left:248.70px;top:349.24px;font-size:12px;font-weight:400;color:#5e5e5e;font-family:'Liberation Sans', sans-serif;letter-spacing:0px;-webkit-text-stroke:0.25px #5e5e5e;">Temporary Facilities &amp; Controls</div><div class="t" style="right:684.43px;top:349.24px;font-size:12px;font-weight:400;color:#2c7190;font-family:'Liberation Sans', sans-serif;letter-spacing:0.37px;-webkit-text-stroke:0.25px #2c7190;">$50,000.00</div><div class="t" style="right:569.33px;top:349.24px;font-size:12px;font-weight:400;color:#2c7190;font-family:'Liberation Sans', sans-serif;letter-spacing:0.37px;-webkit-text-stroke:0.25px #2c7190;">$50,000.00</div><div class="t" style="right:455.13px;top:349.24px;font-size:12px;font-weight:400;color:#2c7190;font-family:'Liberation Sans', sans-serif;letter-spacing:0.37px;-webkit-text-stroke:0.25px #2c7190;">$5,000.00</div><div class="t" style="right:340.33px;top:349.24px;font-size:12px;font-weight:400;color:#2c7190;font-family:'Liberation Sans', sans-serif;letter-spacing:0.37px;-webkit-text-stroke:0.25px #2c7190;">$50,000.00</div><div class="r" style="left:50.50px;top:366.40px;width:49.00px;height:24.40px;background:#f3f3f3;"></div><div class="r" style="left:99.60px;top:366.40px;width:845.40px;height:24.40px;background:#f2f2f2;"></div><div class="t" style="right:1191.40px;top:373.87px;font-size:12.2px;font-weight:400;color:#3a3a3a;font-family:'Liberation Sans', sans-serif;letter-spacing:0px;">29</div><div class="t" style="left:150.40px;top:374.04px;font-size:12px;font-weight:400;color:#2c7190;font-family:'Liberation Sans', sans-serif;letter-spacing:0.3px;-webkit-text-stroke:0.25px #2c7190;">01 70 00</div><div class="t" style="left:248.70px;top:374.04px;font-size:12px;font-weight:400;color:#5e5e5e;font-family:'Liberation Sans', sans-serif;letter-spacing:0px;-webkit-text-stroke:0.25px #5e5e5e;">Execution requirements</div><div class="t" style="right:684.43px;top:374.04px;font-size:12px;font-weight:400;color:#2c7190;font-family:'Liberation Sans', sans-serif;letter-spacing:0.37px;-webkit-text-stroke:0.25px #2c7190;">$570,000.00</div><div class="t" style="right:569.33px;top:374.04px;font-size:12px;font-weight:400;color:#2c7190;font-family:'Liberation Sans', sans-serif;letter-spacing:0.37px;-webkit-text-stroke:0.25px #2c7190;">$570,000.00</div><div class="t" style="right:455.13px;top:374.04px;font-size:12px;font-weight:400;color:#2c7190;font-family:'Liberation Sans', sans-serif;letter-spacing:0.37px;-webkit-text-stroke:0.25px #2c7190;">$100,000.00</div><div class="t" style="right:340.33px;top:374.04px;font-size:12px;font-weight:400;color:#2c7190;font-family:'Liberation Sans', sans-serif;letter-spacing:0.37px;-webkit-text-stroke:0.25px #2c7190;">$570,000.00</div><div class="r" style="left:50.50px;top:167.50px;width:894.50px;height:1.00px;background:#dde0dc;"></div><div class="r" style="left:50.50px;top:192.30px;width:894.50px;height:1.00px;background:#dde0dc;"></div><div class="r" style="left:50.50px;top:217.10px;width:894.50px;height:1.00px;background:#dde0dc;"></div><div class="r" style="left:50.50px;top:241.90px;width:894.50px;height:1.00px;background:#dde0dc;"></div><div class="r" style="left:50.50px;top:266.70px;width:894.50px;height:1.00px;background:#dde0dc;"></div><div class="r" style="left:50.50px;top:291.50px;width:894.50px;height:1.00px;background:#dde0dc;"></div><div class="r" style="left:50.50px;top:316.30px;width:894.50px;height:1.00px;background:#dde0dc;"></div><div class="r" style="left:50.50px;top:341.10px;width:894.50px;height:1.00px;background:#dde0dc;"></div><div class="r" style="left:50.50px;top:365.90px;width:894.50px;height:1.00px;background:#dde0dc;"></div><div class="r" style="left:50.30px;top:96.70px;width:1.00px;height:294.10px;background:#e2e2e2;"></div><div class="r" style="left:99.20px;top:96.70px;width:1.20px;height:294.10px;background:#9a9a9a;"></div><div class="r" style="left:243.00px;top:143.20px;width:1.00px;height:247.60px;background:#dfe3de;"></div><div class="r" style="left:485.00px;top:96.70px;width:1.30px;height:294.10px;background:#9a9aa4;"></div><div class="r" style="left:599.60px;top:143.20px;width:1.00px;height:247.60px;background:#dfe3de;"></div><div class="r" style="left:714.70px;top:143.20px;width:1.00px;height:247.60px;background:#dfe3de;"></div><div class="r" style="left:828.90px;top:143.20px;width:1.00px;height:247.60px;background:#dfe3de;"></div><div class="r" style="left:100.2px;top:294.4px;width:387px;height:23.6px;box-sizing:border-box;border:2px solid #e8776c;box-shadow:1px 2px 2px rgba(0,0,0,0.28), inset 0 2px 2px rgba(0,0,0,0.25);"></div><div class="r" style="left:141px;top:418px;width:1108px;height:275px;background:#fff;box-shadow:1px 2px 4px rgba(20,25,50,0.6);"></div><div class="r" style="left:141.00px;top:418.00px;width:1108.00px;height:50.00px;background:#efefef;border-top:1px solid #fff;border-left:2px solid #fff;box-sizing:border-box;"></div><div class="r" style="left:141.00px;top:467.80px;width:1108.00px;height:1.80px;background:#111;"></div><div class="r" style="left:365.90px;top:418.00px;width:1.60px;height:51.00px;background:#111;"></div><div class="r" style="left:367.50px;top:419.00px;width:1.00px;height:48.00px;background:#fff;"></div><div class="r" style="left:743.60px;top:418.00px;width:1.60px;height:51.00px;background:#111;"></div><div class="r" style="left:745.20px;top:419.00px;width:1.00px;height:48.00px;background:#fff;"></div><div class="r" style="left:872.10px;top:418.00px;width:1.60px;height:51.00px;background:#111;"></div><div class="r" style="left:873.70px;top:419.00px;width:1.00px;height:48.00px;background:#fff;"></div><div class="r" style="left:958.20px;top:418.00px;width:1.60px;height:51.00px;background:#111;"></div><div class="r" style="left:959.80px;top:419.00px;width:1.00px;height:48.00px;background:#fff;"></div><div class="r" style="left:1039.20px;top:418.00px;width:1.60px;height:51.00px;background:#111;"></div><div class="r" style="left:1040.80px;top:419.00px;width:1.00px;height:48.00px;background:#fff;"></div><div class="r" style="left:1245.00px;top:418.00px;width:1.60px;height:51.00px;background:#111;"></div><div class="r" style="left:1246.60px;top:419.00px;width:1.00px;height:48.00px;background:#fff;"></div><div class="t" style="left:145.00px;top:423.20px;font-size:13.7px;font-weight:400;color:#1a1a1a;font-family:'Liberation Sans', sans-serif;letter-spacing:0px;-webkit-text-stroke:0.3px #1a1a1a;">Activity ID</div><div class="t" style="left:371.50px;top:423.20px;font-size:13.7px;font-weight:400;color:#1a1a1a;font-family:'Liberation Sans', sans-serif;letter-spacing:0px;-webkit-text-stroke:0.3px #1a1a1a;">Activity Name</div><div class="t" style="right:412.00px;top:423.00px;font-size:13.7px;font-weight:400;color:#1a1a1a;font-family:'Liberation Sans', sans-serif;letter-spacing:0px;-webkit-text-stroke:0.3px #1a1a1a;">Performance %</div><div class="t" style="right:412.00px;top:440.90px;font-size:13.7px;font-weight:400;color:#1a1a1a;font-family:'Liberation Sans', sans-serif;letter-spacing:0px;-webkit-text-stroke:0.3px #1a1a1a;">Complete</div><div class="t" style="left:877.50px;top:423.20px;font-size:13.7px;font-weight:400;color:#1a1a1a;font-family:'Liberation Sans', sans-serif;letter-spacing:0px;-webkit-text-stroke:0.3px #1a1a1a;">Start</div><div class="t" style="left:964.40px;top:423.20px;font-size:13.7px;font-weight:400;color:#1a1a1a;font-family:'Liberation Sans', sans-serif;letter-spacing:0px;-webkit-text-stroke:0.3px #1a1a1a;">Finish</div><div class="t" style="left:1045.00px;top:423.20px;font-size:13.7px;font-weight:400;color:#1a1a1a;font-family:'Liberation Sans', sans-serif;letter-spacing:0px;-webkit-text-stroke:0.3px #1a1a1a;">CBS ID</div><div class="r" style="left:141.00px;top:469.60px;width:1108.00px;height:34.60px;background:#00803e;"></div><div class="r" style="left:141.00px;top:504.00px;width:1108.00px;height:1.00px;background:#9cc7a8;"></div><div class="r" style="left:147.00px;top:505.00px;width:1102.00px;height:25.50px;background:#808080;"></div><div class="r" style="left:146.00px;top:504.20px;width:1.20px;height:188.80px;background:#c9c9c9;"></div><div class="r" style="left:147.00px;top:530.20px;width:1102.00px;height:1.00px;background:#b8b8c8;"></div><div class="r" style="left:154.00px;top:531.20px;width:1095.00px;height:21.80px;background:#0000a0;"></div><div class="r" style="left:152.40px;top:530.50px;width:1.40px;height:162.50px;background:#c0c0c0;"></div><div class="r" style="left:141.00px;top:469.60px;width:5.00px;height:223.40px;background:#00803e;"></div><div class="r" style="left:147.20px;top:504.80px;width:5.20px;height:188.20px;background:#808080;"></div><div class="r" style="left:154.00px;top:531.20px;width:5.00px;height:161.80px;background:#0000a0;"></div><div class="r" style="left:743.80px;top:469.60px;width:1.20px;height:34.40px;background:#8fd3a6;"></div><div class="r" style="left:743.80px;top:505.00px;width:1.20px;height:25.50px;background:#c4c4c4;"></div><div class="r" style="left:743.80px;top:531.20px;width:1.20px;height:21.80px;background:#b8b8e8;"></div><div class="r" style="left:872.30px;top:469.60px;width:1.20px;height:34.40px;background:#8fd3a6;"></div><div class="r" style="left:872.30px;top:505.00px;width:1.20px;height:25.50px;background:#c4c4c4;"></div><div class="r" style="left:872.30px;top:531.20px;width:1.20px;height:21.80px;background:#b8b8e8;"></div><div class="r" style="left:958.40px;top:469.60px;width:1.20px;height:34.40px;background:#8fd3a6;"></div><div class="r" style="left:958.40px;top:505.00px;width:1.20px;height:25.50px;background:#c4c4c4;"></div><div class="r" style="left:958.40px;top:531.20px;width:1.20px;height:21.80px;background:#b8b8e8;"></div><div class="r" style="left:1039.40px;top:469.60px;width:1.20px;height:34.40px;background:#8fd3a6;"></div><div class="r" style="left:1039.40px;top:505.00px;width:1.20px;height:25.50px;background:#c4c4c4;"></div><div class="r" style="left:1039.40px;top:531.20px;width:1.20px;height:21.80px;background:#b8b8e8;"></div><div class="r" style="left:1245.20px;top:469.60px;width:1.20px;height:34.40px;background:#8fd3a6;"></div><div class="r" style="left:1245.20px;top:505.00px;width:1.20px;height:25.50px;background:#c4c4c4;"></div><div class="r" style="left:1245.20px;top:531.20px;width:1.20px;height:21.80px;background:#b8b8e8;"></div><div class="r" style="left:1246.40px;top:469.60px;width:2.60px;height:223.40px;background:transparent;"></div><div class="r" style="left:144.4px;top:482.6px;width:10.5px;height:10.5px;background:#fff;"></div><div class="r" style="left:146.6px;top:486.85px;width:6.1px;height:2px;background:#111;"></div><div class="r" style="left:150.6px;top:513.4px;width:10.5px;height:10.5px;background:#fff;"></div><div class="r" style="left:152.79999999999998px;top:517.65px;width:6.1px;height:2px;background:#111;"></div><div class="r" style="left:156.6px;top:536.4px;width:11px;height:11px;background:#fff;"></div><div class="r" style="left:158.79999999999998px;top:540.9px;width:6.6px;height:2px;background:#111;"></div><div class="t" style="left:169.40px;top:474.52px;font-size:23.6px;font-weight:700;color:#009000;font-family:'Liberation Sans', sans-serif;letter-spacing:0.68px;">Toledo Bend - Replace Turbine on Generator 1</div><div class="t" style="left:174.70px;top:508.41px;font-size:17px;font-weight:700;color:#f4f2ea;font-family:'Liberation Sans', sans-serif;letter-spacing:0px;transform:scaleX(0.963);transform-origin:left top;">CONSTRUCTION</div><div class="t" style="left:182.50px;top:533.99px;font-size:15.6px;font-weight:700;color:#ffffff;font-family:'Liberation Sans', sans-serif;letter-spacing:0px;transform:scaleX(0.91);transform-origin:left top;">SITE &amp; FOUNDATION</div><div class="t" style="right:411.80px;top:471.94px;font-size:14.6px;font-weight:400;color:#009000;font-family:'Liberation Sans', sans-serif;letter-spacing:0px;transform:scaleX(0.925);transform-origin:right top;">34.29%</div><div class="t" style="left:878.40px;top:471.94px;font-size:14.6px;font-weight:400;color:#009000;font-family:'Liberation Sans', sans-serif;letter-spacing:0px;transform:scaleX(0.925);transform-origin:left top;">30-Mar-22 A</div><div class="t" style="left:964.70px;top:471.94px;font-size:14.6px;font-weight:400;color:#009000;font-family:'Liberation Sans', sans-serif;letter-spacing:0px;transform:scaleX(0.925);transform-origin:left top;">18-Mar-24</div><div class="t" style="right:411.80px;top:508.44px;font-size:14.6px;font-weight:400;color:#fff;font-family:'Liberation Sans', sans-serif;letter-spacing:0px;transform:scaleX(0.925);transform-origin:right top;">34.29%</div><div class="t" style="left:878.40px;top:508.44px;font-size:14.6px;font-weight:400;color:#fff;font-family:'Liberation Sans', sans-serif;letter-spacing:0px;transform:scaleX(0.925);transform-origin:left top;">30-Mar-22 A</div><div class="t" style="left:964.70px;top:508.44px;font-size:14.6px;font-weight:400;color:#fff;font-family:'Liberation Sans', sans-serif;letter-spacing:0px;transform:scaleX(0.925);transform-origin:left top;">18-Mar-24</div><div class="t" style="right:411.80px;top:533.84px;font-size:14.6px;font-weight:400;color:#fff;font-family:'Liberation Sans', sans-serif;letter-spacing:0px;transform:scaleX(0.925);transform-origin:right top;">63.24%</div><div class="t" style="left:878.40px;top:533.84px;font-size:14.6px;font-weight:400;color:#fff;font-family:'Liberation Sans', sans-serif;letter-spacing:0px;transform:scaleX(0.925);transform-origin:left top;">30-Mar-22 A</div><div class="t" style="left:964.70px;top:533.84px;font-size:14.6px;font-weight:400;color:#fff;font-family:'Liberation Sans', sans-serif;letter-spacing:0px;transform:scaleX(0.925);transform-origin:left top;">29-Dec-23</div><div class="r" style="left:159.50px;top:576.20px;width:1087.00px;height:1.20px;background:#d4d4d4;"></div><div class="t" style="left:186.90px;top:556.54px;font-size:14.6px;font-weight:400;color:#1a1a1a;font-family:'Liberation Sans', sans-serif;letter-spacing:0px;-webkit-text-stroke:0.2px #1a1a1a;transform:scaleX(0.925);transform-origin:left top;">J012N-2CN-3080</div><div class="t" style="left:372.00px;top:556.54px;font-size:14.6px;font-weight:400;color:#1a1a1a;font-family:'Liberation Sans', sans-serif;letter-spacing:0px;-webkit-text-stroke:0.2px #1a1a1a;transform:scaleX(0.925);transform-origin:left top;">Tree Clearing and Early Site Grading [McGrath]</div><div class="t" style="right:411.80px;top:556.54px;font-size:14.6px;font-weight:400;color:#1a1a1a;font-family:'Liberation Sans', sans-serif;letter-spacing:0px;-webkit-text-stroke:0.2px #1a1a1a;transform:scaleX(0.925);transform-origin:right top;">94%</div><div class="t" style="left:878.40px;top:556.54px;font-size:14.6px;font-weight:400;color:#1a1a1a;font-family:'Liberation Sans', sans-serif;letter-spacing:0px;-webkit-text-stroke:0.2px #1a1a1a;transform:scaleX(0.925);transform-origin:left top;">30-Mar-22 A</div><div class="t" style="left:964.70px;top:556.54px;font-size:14.6px;font-weight:400;color:#1a1a1a;font-family:'Liberation Sans', sans-serif;letter-spacing:0px;-webkit-text-stroke:0.2px #1a1a1a;transform:scaleX(0.925);transform-origin:left top;">03-Jul-23</div><div class="t" style="left:1045.50px;top:556.54px;font-size:14.6px;font-weight:400;color:#1a1a1a;font-family:'Liberation Sans', sans-serif;letter-spacing:0px;-webkit-text-stroke:0.2px #1a1a1a;transform:scaleX(0.925);transform-origin:left top;">90000<span style="font-size:16.8px;line-height:0">~~</span>01 00 00<span style="font-size:16.8px;line-height:0">~~</span>01 10 00</div><div class="r" style="left:159.50px;top:600.60px;width:1087.00px;height:1.20px;background:#d4d4d4;"></div><div class="t" style="left:186.90px;top:580.34px;font-size:14.6px;font-weight:400;color:#1a1a1a;font-family:'Liberation Sans', sans-serif;letter-spacing:0px;-webkit-text-stroke:0.2px #1a1a1a;transform:scaleX(0.925);transform-origin:left top;">J012N-2CN-3050</div><div class="t" style="left:372.00px;top:580.34px;font-size:14.6px;font-weight:400;color:#1a1a1a;font-family:'Liberation Sans', sans-serif;letter-spacing:0px;-webkit-text-stroke:0.2px #1a1a1a;transform:scaleX(0.925);transform-origin:left top;">E/F/R/P Foundations&nbsp; - Piers</div><div class="t" style="right:411.80px;top:580.34px;font-size:14.6px;font-weight:400;color:#1a1a1a;font-family:'Liberation Sans', sans-serif;letter-spacing:0px;-webkit-text-stroke:0.2px #1a1a1a;transform:scaleX(0.925);transform-origin:right top;">0%</div><div class="t" style="left:878.40px;top:580.34px;font-size:14.6px;font-weight:400;color:#1a1a1a;font-family:'Liberation Sans', sans-serif;letter-spacing:0px;-webkit-text-stroke:0.2px #1a1a1a;transform:scaleX(0.925);transform-origin:left top;">01-May-23</div><div class="t" style="left:964.70px;top:580.34px;font-size:14.6px;font-weight:400;color:#1a1a1a;font-family:'Liberation Sans', sans-serif;letter-spacing:0px;-webkit-text-stroke:0.2px #1a1a1a;transform:scaleX(0.925);transform-origin:left top;">30-Jun-23</div><div class="t" style="left:1045.50px;top:580.34px;font-size:14.6px;font-weight:400;color:#1a1a1a;font-family:'Liberation Sans', sans-serif;letter-spacing:0px;-webkit-text-stroke:0.2px #1a1a1a;transform:scaleX(0.925);transform-origin:left top;">90000<span style="font-size:16.8px;line-height:0">~~</span>01 00 00<span style="font-size:16.8px;line-height:0">~~</span>01 10 00</div><div class="r" style="left:159.50px;top:623.70px;width:1087.00px;height:1.20px;background:#d4d4d4;"></div><div class="t" style="left:186.90px;top:604.74px;font-size:14.6px;font-weight:400;color:#1a1a1a;font-family:'Liberation Sans', sans-serif;letter-spacing:0px;-webkit-text-stroke:0.2px #1a1a1a;transform:scaleX(0.925);transform-origin:left top;">J012N-2CN-3040</div><div class="t" style="left:372.00px;top:604.74px;font-size:14.6px;font-weight:400;color:#1a1a1a;font-family:'Liberation Sans', sans-serif;letter-spacing:0px;-webkit-text-stroke:0.2px #1a1a1a;transform:scaleX(0.925);transform-origin:left top;">E/F/R/P Foundations - Slab on Grade</div><div class="t" style="right:411.80px;top:604.74px;font-size:14.6px;font-weight:400;color:#1a1a1a;font-family:'Liberation Sans', sans-serif;letter-spacing:0px;-webkit-text-stroke:0.2px #1a1a1a;transform:scaleX(0.925);transform-origin:right top;">0%</div><div class="t" style="left:878.40px;top:604.74px;font-size:14.6px;font-weight:400;color:#1a1a1a;font-family:'Liberation Sans', sans-serif;letter-spacing:0px;-webkit-text-stroke:0.2px #1a1a1a;transform:scaleX(0.925);transform-origin:left top;">22-May-23</div><div class="t" style="left:964.70px;top:604.74px;font-size:14.6px;font-weight:400;color:#1a1a1a;font-family:'Liberation Sans', sans-serif;letter-spacing:0px;-webkit-text-stroke:0.2px #1a1a1a;transform:scaleX(0.925);transform-origin:left top;">21-Jul-23</div><div class="t" style="left:1045.50px;top:604.74px;font-size:14.6px;font-weight:400;color:#1a1a1a;font-family:'Liberation Sans', sans-serif;letter-spacing:0px;-webkit-text-stroke:0.2px #1a1a1a;transform:scaleX(0.925);transform-origin:left top;">90000<span style="font-size:16.8px;line-height:0">~~</span>01 00 00<span style="font-size:16.8px;line-height:0">~~</span>01 10 00</div><div class="r" style="left:159.50px;top:646.90px;width:1087.00px;height:1.20px;background:#d4d4d4;"></div><div class="t" style="left:186.90px;top:627.84px;font-size:14.6px;font-weight:400;color:#1a1a1a;font-family:'Liberation Sans', sans-serif;letter-spacing:0px;-webkit-text-stroke:0.2px #1a1a1a;transform:scaleX(0.925);transform-origin:left top;">J012N-2CN-3030</div><div class="t" style="left:372.00px;top:627.84px;font-size:14.6px;font-weight:400;color:#1a1a1a;font-family:'Liberation Sans', sans-serif;letter-spacing:0px;-webkit-text-stroke:0.2px #1a1a1a;transform:scaleX(0.925);transform-origin:left top;">Install Site Fence</div><div class="t" style="right:411.80px;top:627.84px;font-size:14.6px;font-weight:400;color:#1a1a1a;font-family:'Liberation Sans', sans-serif;letter-spacing:0px;-webkit-text-stroke:0.2px #1a1a1a;transform:scaleX(0.925);transform-origin:right top;">0%</div><div class="t" style="left:878.40px;top:627.84px;font-size:14.6px;font-weight:400;color:#1a1a1a;font-family:'Liberation Sans', sans-serif;letter-spacing:0px;-webkit-text-stroke:0.2px #1a1a1a;transform:scaleX(0.925);transform-origin:left top;">01-May-23</div><div class="t" style="left:964.70px;top:627.84px;font-size:14.6px;font-weight:400;color:#1a1a1a;font-family:'Liberation Sans', sans-serif;letter-spacing:0px;-webkit-text-stroke:0.2px #1a1a1a;transform:scaleX(0.925);transform-origin:left top;">19-May-23</div><div class="t" style="left:1045.50px;top:627.84px;font-size:14.6px;font-weight:400;color:#1a1a1a;font-family:'Liberation Sans', sans-serif;letter-spacing:0px;-webkit-text-stroke:0.2px #1a1a1a;transform:scaleX(0.925);transform-origin:left top;">90000<span style="font-size:16.8px;line-height:0">~~</span>01 00 00<span style="font-size:16.8px;line-height:0">~~</span>01 10 00</div><div class="r" style="left:159.50px;top:669.90px;width:1087.00px;height:1.20px;background:#d4d4d4;"></div><div class="t" style="left:186.90px;top:651.04px;font-size:14.6px;font-weight:400;color:#1a1a1a;font-family:'Liberation Sans', sans-serif;letter-spacing:0px;-webkit-text-stroke:0.2px #1a1a1a;transform:scaleX(0.925);transform-origin:left top;">J012N-2CN-3060</div><div class="t" style="left:372.00px;top:651.04px;font-size:14.6px;font-weight:400;color:#1a1a1a;font-family:'Liberation Sans', sans-serif;letter-spacing:0px;-webkit-text-stroke:0.2px #1a1a1a;transform:scaleX(0.925);transform-origin:left top;">Install Interior Road Way</div><div class="t" style="right:411.80px;top:651.04px;font-size:14.6px;font-weight:400;color:#1a1a1a;font-family:'Liberation Sans', sans-serif;letter-spacing:0px;-webkit-text-stroke:0.2px #1a1a1a;transform:scaleX(0.925);transform-origin:right top;">0%</div><div class="t" style="left:878.40px;top:651.04px;font-size:14.6px;font-weight:400;color:#1a1a1a;font-family:'Liberation Sans', sans-serif;letter-spacing:0px;-webkit-text-stroke:0.2px #1a1a1a;transform:scaleX(0.925);transform-origin:left top;">14-Aug-23</div><div class="t" style="left:964.70px;top:651.04px;font-size:14.6px;font-weight:400;color:#1a1a1a;font-family:'Liberation Sans', sans-serif;letter-spacing:0px;-webkit-text-stroke:0.2px #1a1a1a;transform:scaleX(0.925);transform-origin:left top;">01-Sep-23</div><div class="t" style="left:1045.50px;top:651.04px;font-size:14.6px;font-weight:400;color:#1a1a1a;font-family:'Liberation Sans', sans-serif;letter-spacing:0px;-webkit-text-stroke:0.2px #1a1a1a;transform:scaleX(0.925);transform-origin:left top;">90000<span style="font-size:16.8px;line-height:0">~~</span>22 00 00<span style="font-size:16.8px;line-height:0">~~</span>22 30 00</div><div class="t" style="left:186.90px;top:674.04px;font-size:14.6px;font-weight:400;color:#1a1a1a;font-family:'Liberation Sans', sans-serif;letter-spacing:0px;-webkit-text-stroke:0.2px #1a1a1a;transform:scaleX(0.925);transform-origin:left top;">J012N-2CN-3070</div><div class="t" style="left:372.00px;top:674.04px;font-size:14.6px;font-weight:400;color:#1a1a1a;font-family:'Liberation Sans', sans-serif;letter-spacing:0px;-webkit-text-stroke:0.2px #1a1a1a;transform:scaleX(0.925);transform-origin:left top;">Install Station Stone</div><div class="t" style="right:411.80px;top:674.04px;font-size:14.6px;font-weight:400;color:#1a1a1a;font-family:'Liberation Sans', sans-serif;letter-spacing:0px;-webkit-text-stroke:0.2px #1a1a1a;transform:scaleX(0.925);transform-origin:right top;">0%</div><div class="t" style="left:878.40px;top:674.04px;font-size:14.6px;font-weight:400;color:#1a1a1a;font-family:'Liberation Sans', sans-serif;letter-spacing:0px;-webkit-text-stroke:0.2px #1a1a1a;transform:scaleX(0.925);transform-origin:left top;">06-Nov-23</div><div class="t" style="left:964.70px;top:674.04px;font-size:14.6px;font-weight:400;color:#1a1a1a;font-family:'Liberation Sans', sans-serif;letter-spacing:0px;-webkit-text-stroke:0.2px #1a1a1a;transform:scaleX(0.925);transform-origin:left top;">29-Dec-23<span style="font-size:9px;vertical-align:4px">*</span></div><div class="t" style="left:1045.50px;top:674.04px;font-size:14.6px;font-weight:400;color:#1a1a1a;font-family:'Liberation Sans', sans-serif;letter-spacing:0px;-webkit-text-stroke:0.2px #1a1a1a;transform:scaleX(0.925);transform-origin:left top;">90000<span style="font-size:16.8px;line-height:0">~~</span>27 00 00<span style="font-size:16.8px;line-height:0">~~</span>27 10 00</div><div class="r" style="left:366.10px;top:553.00px;width:1.20px;height:140.00px;background:#cfcfcf;"></div><div class="r" style="left:743.80px;top:553.00px;width:1.20px;height:140.00px;background:#cfcfcf;"></div><div class="r" style="left:872.30px;top:553.00px;width:1.20px;height:140.00px;background:#cfcfcf;"></div><div class="r" style="left:958.40px;top:553.00px;width:1.20px;height:140.00px;background:#cfcfcf;"></div><div class="r" style="left:1039.40px;top:553.00px;width:1.20px;height:140.00px;background:#cfcfcf;"></div><div class="r" style="left:1245.20px;top:553.00px;width:1.20px;height:140.00px;background:#cfcfcf;"></div><div class="r" style="left:1039.8px;top:551.6px;width:198px;height:93px;box-sizing:border-box;border:2px solid #e8776c;box-shadow:1px 2px 2px rgba(0,0,0,0.28), inset 0 2px 2px rgba(0,0,0,0.25);"></div>
</body></html>
